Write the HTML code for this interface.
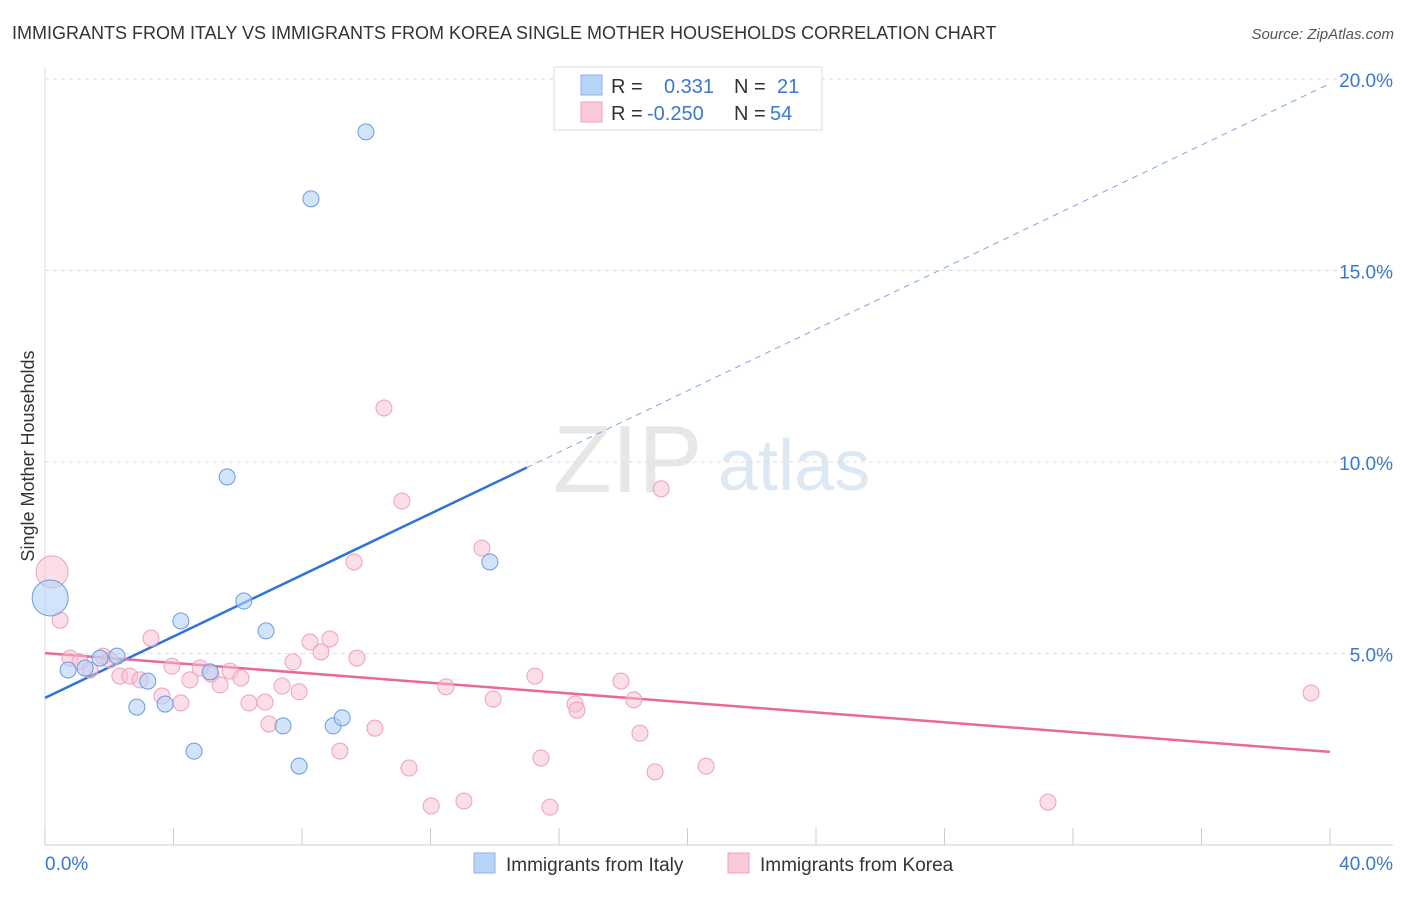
<!DOCTYPE html>
<html><head><meta charset="utf-8"><style>
body{margin:0;background:#fff;font-family:"Liberation Sans",sans-serif;}
svg text{font-family:"Liberation Sans",sans-serif;}
</style></head><body>
<svg id="chart" width="1406" height="892" xmlns="http://www.w3.org/2000/svg">
<text x="12" y="39" font-size="18" fill="#333">IMMIGRANTS FROM ITALY VS IMMIGRANTS FROM KOREA SINGLE MOTHER HOUSEHOLDS CORRELATION CHART</text>
<text x="1394" y="39" font-size="15" fill="#555" text-anchor="end" font-style="italic">Source: ZipAtlas.com</text>
<text x="0" y="0" transform="translate(34,456) rotate(-90)" font-size="18" fill="#333" text-anchor="middle">Single Mother Households</text>
<g><text x="553" y="492" font-size="96" font-family="Liberation Serif" fill="#ddd" opacity="0.7">ZIP</text><text x="718" y="490" font-size="72" fill="#c8daf0" opacity="0.6">atlas</text></g>
<g id="grid"></g><g id="axes"></g><g id="lines"></g><g id="pts"></g>
<g>
<rect x="554" y="67" width="268" height="63" fill="#fff" stroke="#ddd"/>
<rect x="581" y="75" width="21" height="20" fill="#b8d4f7" stroke="#8ab4ea"/>
<text x="611" y="93" font-size="20" fill="#333">R =</text><text x="664" y="93" font-size="20" fill="#3a78d0">0.331</text>
<text x="734" y="93" font-size="20" fill="#333">N =</text><text x="777" y="93" font-size="20" fill="#3a78d0">21</text>
<rect x="581" y="102" width="21" height="20" fill="#f9c9d8" stroke="#f0a0ba"/>
<text x="611" y="120" font-size="20" fill="#333">R =</text><text x="647" y="120" font-size="20" fill="#3a78d0">-0.250</text>
<text x="734" y="120" font-size="20" fill="#333">N =</text><text x="770" y="120" font-size="20" fill="#3a78d0">54</text>
</g>
<g>
<rect x="474" y="853" width="21" height="20" fill="#b8d4f7" stroke="#8ab4ea"/>
<text x="506" y="871" font-size="19" fill="#333">Immigrants from Italy</text>
<rect x="728" y="853" width="21" height="20" fill="#f9c9d8" stroke="#f0a0ba"/>
<text x="760" y="871" font-size="19" fill="#333">Immigrants from Korea</text>
</g>
</svg>
<script>
const italyX=[0.72,1.25,2.24,3.2,2.86,3.74,4.23,4.64,5.14,5.67,6.19,6.88,7.41,7.91,8.28,8.97,9.25,9.99,13.85,0.16,1.71];
const italyY=[4.57,4.62,4.93,4.28,3.6,3.68,5.85,2.45,4.52,9.61,6.37,5.59,3.11,2.06,16.87,3.11,3.32,18.62,7.39,6.45,4.88];
const koreaX=[0.22,0.47,0.78,1.09,1.4,1.81,2.02,2.33,2.64,2.96,3.3,3.64,3.95,4.23,4.51,4.83,5.17,5.45,5.76,6.1,6.35,6.85,6.97,7.38,7.72,7.91,8.25,8.59,8.87,9.18,9.62,9.71,10.27,10.55,11.11,11.33,12.02,12.48,13.04,13.6,13.95,15.25,15.44,15.72,16.5,16.56,17.93,18.33,18.52,18.99,19.18,20.58,31.22,39.41];
const koreaY=[7.13,5.87,4.88,4.78,4.57,4.93,4.83,4.41,4.41,4.31,5.4,3.89,4.67,3.71,4.31,4.62,4.46,4.18,4.54,4.36,3.71,3.73,3.16,4.15,4.78,4.0,5.3,5.04,5.38,2.45,7.39,4.88,3.05,11.41,8.98,2.01,1.02,4.13,1.15,7.75,3.81,4.41,2.27,0.99,3.68,3.52,4.28,3.79,2.92,1.91,9.3,2.06,1.12,3.97];
const italyTrend=[3.84,0.401];
const koreaTrend=[5.01,-0.0645];
const yTicks=[5,10,15,20];
const xTickLabels=["0.0%","40.0%"];
const NS="http://www.w3.org/2000/svg";
const X=v=>45+v*32.125, Y=v=>845-v*38.3;
function mk(tag,attrs,parent){const e=document.createElementNS(NS,tag);for(const k in attrs)e.setAttribute(k,attrs[k]);document.getElementById(parent).appendChild(e);return e;}
yTicks.forEach(t=>{
  const l=mk('line',{x1:45,x2:1393,y1:Y(t),y2:Y(t),stroke:'#ddd','stroke-dasharray':'4 4'},'grid');
  
  
  const tx=mk('text',{x:1393,y:Y(t)+8,'font-size':19,fill:'#3a78d0','text-anchor':'end'},'grid');
  tx.textContent=t.toFixed(1)+'%';
  
  
});
const ax=mk('line',{x1:45,x2:1393,y1:845,y2:845,stroke:'#ccc'},'axes');


const ay=mk('line',{x1:45,x2:45,y1:68,y2:845,stroke:'#ddd'},'axes');


for(let i=0;i<=10;i++){const t=mk('line',{x1:X(i*4),x2:X(i*4),y1:828,y2:845,stroke:'#ccc'},'axes');
  
  }
[[0,'start',45],[40,'end',1393]].forEach((d,i)=>{const t=mk('text',{x:d[2],y:870,'font-size':19,fill:'#3a78d0','text-anchor':d[1]},'axes');t.textContent=xTickLabels[i];
  
  });
const f=(tr,x)=>tr[0]+tr[1]*x;
const b1=mk('line',{x1:X(0),y1:Y(f(italyTrend,0)),x2:X(15),y2:Y(f(italyTrend,15)),stroke:'#2e73d8','stroke-width':2.5},'lines');


const b2=mk('line',{x1:X(15),y1:Y(f(italyTrend,15)),x2:X(40),y2:Y(f(italyTrend,40)),stroke:'#7fa6e0','stroke-width':1,'stroke-dasharray':'6 5'},'lines');


const k1=mk('line',{x1:X(0),y1:Y(f(koreaTrend,0)),x2:X(40),y2:Y(f(koreaTrend,40)),stroke:'#e8689a','stroke-width':2.5},'lines');


koreaX.forEach((x,i)=>{const c=mk('circle',{cx:X(x),cy:Y(koreaY[i]),r:i==0?16:8,fill:'rgba(249,190,210,0.5)',stroke:'#eea0bb','stroke-width':1},'pts');
  
  });
italyX.forEach((x,i)=>{const c=mk('circle',{cx:X(x),cy:Y(italyY[i]),r:i==19?18:8,fill:'rgba(180,210,245,0.6)',stroke:'#6b9be0','stroke-width':1},'pts');
  
  });
</script>
</body></html>
